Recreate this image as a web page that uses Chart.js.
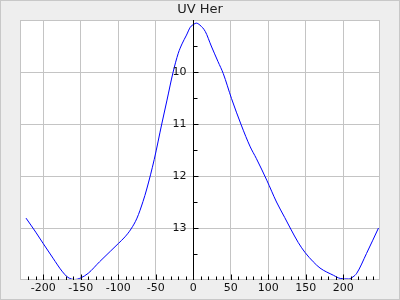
<!DOCTYPE html>
<html>
<head>
<meta charset="utf-8">
<script src="https://cdn.jsdelivr.net/npm/chart.js@4.4.1/dist/chart.umd.min.js"></script>
<style>
  body { margin: 0; background: #eeeeee; }
  canvas { display: block; }
</style>
</head>
<body>
<canvas id="lc" width="400" height="300"></canvas>
<script>
// UV Her light curve (magnitude axis is reversed)
const title = "UV Her";
const phase = [-223, -210, -200, -187, -175, -167, -158, -150, -140, -125, -110, -100, -91, -83, -75, -67, -62, -52,
  -42, -35, -27, -20, -15, -9, -4, 1, 4, 9, 16, 24, 33, 40, 51, 64, 76, 84, 98, 111, 122, 130, 140, 149, 160, 169,
  187, 196, 207, 213, 218, 231, 247];
const mag = [12.81, 13.08, 13.30, 13.58, 13.83, 13.95, 13.99, 13.96, 13.87, 13.65, 13.44, 13.30, 13.17, 13.02, 12.81,
  12.49, 12.25, 11.68, 11.00, 10.54, 10.01, 9.64, 9.46, 9.29, 9.14, 9.08, 9.06, 9.10, 9.22, 9.50, 9.80, 10.03, 10.51,
  11.02, 11.44, 11.66, 12.08, 12.50, 12.80, 13.02, 13.28, 13.47, 13.65, 13.77, 13.91, 13.97, 13.98, 13.94, 13.87,
  13.49, 13.00];
const xTicks = [-200, -150, -100, -50, 0, 50, 100, 150, 200];
const yTicks = [10, 11, 12, 13];
const xRange = [-231, 249];
const yRange = [9, 14];

const gridColor = "#c4c4c4";

function seg(ctx, x1, y1, x2, y2) {
  ctx.beginPath();
  ctx.moveTo(x1, y1);
  ctx.lineTo(x2, y2);
  ctx.stroke();
}

// background, frame, centre axis, minor ticks and labels
const frame = {
  id: "frame",
  beforeDraw(chart) {
    const { ctx, chartArea: a } = chart;
    ctx.save();
    ctx.fillStyle = "#eeeeee";
    ctx.fillRect(0, 0, chart.width, chart.height);
    ctx.strokeStyle = "#c8c8c8";
    ctx.lineWidth = 1;
    ctx.strokeRect(0.5, 0.5, chart.width - 1, chart.height - 1);
    ctx.fillStyle = "#ffffff";
    ctx.fillRect(a.left, a.top, a.right - a.left, a.bottom - a.top);
    ctx.restore();
  },
  afterDraw(chart) {
    const { ctx, chartArea: a, scales: { x, y } } = chart;
    ctx.save();
    ctx.lineWidth = 1;
    ctx.strokeStyle = gridColor;
    ctx.strokeRect(Math.round(a.left) + 0.5, Math.round(a.top) + 0.5,
      Math.round(a.right - a.left) - 1, Math.round(a.bottom - a.top) - 1);

    const x0 = Math.round(x.getPixelForValue(0)) + 0.5;
    const bottom = Math.round(a.bottom) - 0.5;
    ctx.strokeStyle = "#000000";
    seg(ctx, x0, a.top, x0, a.bottom);

    for (let v = -220; v <= 240; v += 10) {
      const px = Math.round(x.getPixelForValue(v)) + 0.5;
      seg(ctx, px, bottom + 0.5, px, bottom - (v % 50 === 0 ? 5 : 3));
    }
    for (let v = 9.5; v < 14; v += 0.5) {
      const py = Math.round(y.getPixelForValue(v)) + 0.5;
      seg(ctx, x0, py, x0 + (Number.isInteger(v) ? 5 : 4), py);
    }

    ctx.fillStyle = "#111111";
    ctx.font = "11px 'DejaVu Sans'";
    ctx.textBaseline = "middle";
    ctx.textAlign = "center";
    xTicks.forEach(v => ctx.fillText(String(v), x.getPixelForValue(v), a.bottom + 8));
    ctx.textAlign = "right";
    yTicks.forEach(v => ctx.fillText(String(v), x0 - 7, y.getPixelForValue(v)));
    ctx.restore();
  }
};

new Chart(document.getElementById("lc"), {
  type: "line",
  data: {
    datasets: [{
      data: phase.map((p, i) => ({ x: p, y: mag[i] })),
      borderColor: "#0000ff",
      borderWidth: 1,
      pointRadius: 0,
      cubicInterpolationMode: "monotone",
      fill: false
    }]
  },
  options: {
    responsive: false,
    animation: false,
    devicePixelRatio: 1,
    layout: { padding: { left: 20, right: 20, top: 0, bottom: 20 } },
    plugins: {
      legend: { display: false },
      tooltip: { enabled: false },
      title: {
        display: true,
        text: title,
        color: "#222222",
        font: { family: "DejaVu Sans", size: 13, weight: "normal" },
        padding: { top: 2, bottom: 2.4 }
      }
    },
    scales: {
      x: {
        type: "linear",
        min: xRange[0],
        max: xRange[1],
        afterBuildTicks: s => { s.ticks = xTicks.map(v => ({ value: v })); },
        ticks: { display: false },
        grid: { color: gridColor, drawTicks: false },
        border: { display: false }
      },
      y: {
        type: "linear",
        reverse: true,
        min: yRange[0],
        max: yRange[1],
        afterBuildTicks: s => { s.ticks = yTicks.map(v => ({ value: v })); },
        ticks: { display: false },
        grid: { color: gridColor, drawTicks: false },
        border: { display: false }
      }
    }
  },
  plugins: [frame]
});
</script>
</body>
</html>
